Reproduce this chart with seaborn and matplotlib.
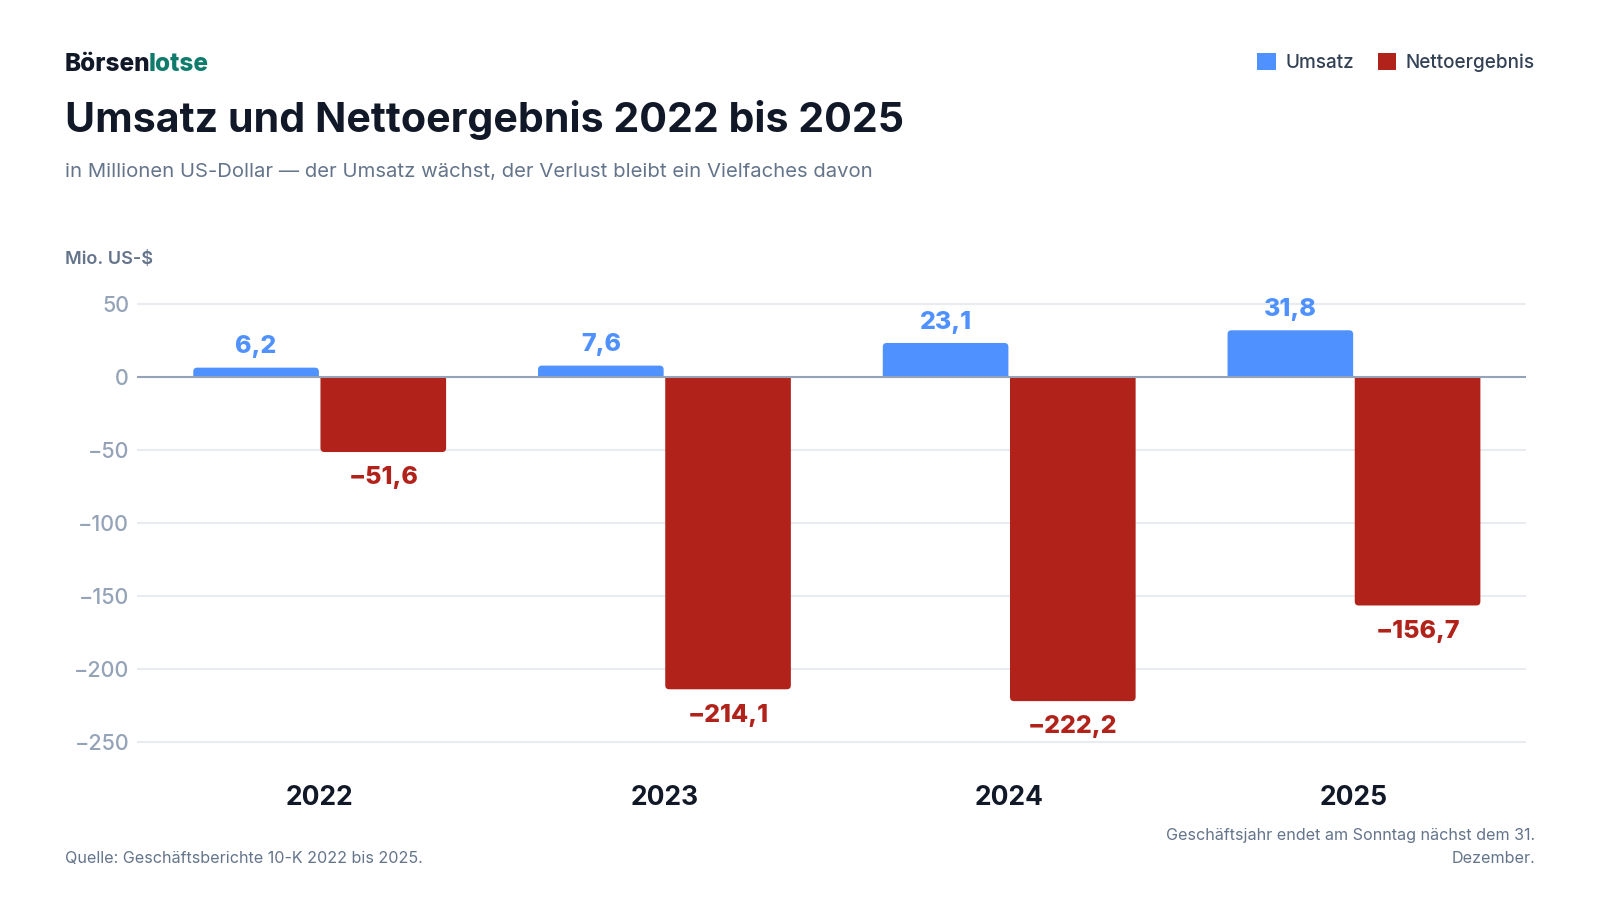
import matplotlib
matplotlib.use("Agg")
import matplotlib.pyplot as plt
from matplotlib.patches import Patch, FancyBboxPatch, Rectangle
import seaborn as sns
import pandas as pd

# ---- data ----
years = ["2022", "2023", "2024", "2025"]
umsatz = [6.2, 7.6, 23.1, 31.8]
netto = [-51.6, -214.1, -222.2, -156.7]
series_names = ["Umsatz", "Nettoergebnis"]
y_ticks = [-250, -200, -150, -100, -50, 0, 50]

BLUE = "#4F91FF"
RED = "#B1221A"
DARK = "#111827"
MUTED = "#64748B"
TICK = "#94A3B8"

df = pd.DataFrame({
    "Jahr": years * 2,
    "Serie": [series_names[0]] * len(years) + [series_names[1]] * len(years),
    "Wert": umsatz + netto,
})

sns.set_theme(style="white")
plt.rcParams["font.family"] = ["Inter", "DejaVu Sans"]

W, H = 1600, 900
fig = plt.figure(figsize=(16, 9), dpi=100)
fig.patch.set_facecolor("white")

ax_left, ax_right = 137.3, 1526
ax_top, ax_bot = 274.5, 763.6
ax = fig.add_axes([ax_left / W, 1 - ax_bot / H, (ax_right - ax_left) / W, (ax_bot - ax_top) / H])

sns.barplot(data=df, x="Jahr", y="Wert", hue="Serie", order=years,
            hue_order=series_names, palette=[BLUE, RED], width=0.738,
            gap=0.0125, saturation=1, legend=False, ax=ax, zorder=3,
            linewidth=0)

ax.set_xlim(-0.529, 3.499)
ax.set_ylim(-265, 70)
ax.set_yticks(y_ticks)
ax.set_yticklabels([f"{v}".replace("-", "\u2212") for v in y_ticks])
ax.set_xlabel("")
ax.set_ylabel("")
for s in ax.spines.values():
    s.set_visible(False)
ax.tick_params(axis="y", length=0, pad=5.8, labelsize=15.5, labelcolor=TICK)
ax.tick_params(axis="x", length=0, pad=15.5, labelsize=19, labelcolor=DARK)
for t in ax.get_xticklabels():
    t.set_fontweight("bold")
for t in ax.get_yticklabels():
    t.set_fontweight("medium")

for v in y_ticks:
    if v != 0:
        ax.axhline(v, color="#E8ECF1", lw=1.5, zorder=1)
ax.axhline(0, color=TICK, lw=1.5, zorder=4)

# rounded outer corners (radius ~4 px)
x_px = ax.transData.transform((1, 0))[0] - ax.transData.transform((0, 0))[0]
y_px = ax.transData.transform((0, 1))[1] - ax.transData.transform((0, 0))[1]
rad_px = 4.0
rx = rad_px / x_px
ry = rad_px / y_px

def fmt(v):
    return f"{v:.1f}".replace(".", ",").replace("-", "\u2212")

for cont, color in zip(ax.containers, [BLUE, RED]):
    for bar in cont:
        h = bar.get_height()
        x0 = bar.get_x()
        w = bar.get_width()
        xc = x0 + w / 2
        if h >= 0:
            y0, hh = -ry * 2, h + ry * 2
            clip = Rectangle((x0 - 1, 0), w + 2, h + 50, transform=ax.transData)
        else:
            y0, hh = h, -h + ry * 2
            clip = Rectangle((x0 - 1, h - 50), w + 2, -h + 50, transform=ax.transData)
        fb = FancyBboxPatch((x0, y0), w, hh,
                            boxstyle=f"round,pad=0,rounding_size={rx}",
                            mutation_aspect=ry / rx, facecolor=color,
                            edgecolor="none", zorder=3)
        ax.add_patch(fb)
        fb.set_clip_path(clip)
        bar.set_visible(False)
        if h >= 0:
            ax.annotate(fmt(h), (xc, h), xytext=(0, 10.4), textcoords="offset points",
                        ha="center", va="baseline", fontsize=18, fontweight="heavy",
                        color=color, zorder=5)
        else:
            ax.annotate(fmt(h), (xc, h), xytext=(0, -23.2), textcoords="offset points",
                        ha="center", va="baseline", fontsize=18, fontweight="heavy",
                        color=color, zorder=5)

# ---- header ----
renderer = fig.canvas.get_renderer()
t1 = fig.text(65 / W, 1 - 70.7 / H, "Börsen", fontsize=17.5, fontweight="heavy",
              color=DARK, va="baseline", ha="left")
bb = t1.get_window_extent(renderer=renderer)
fig.text((bb.x1 - 1.5) / W, 1 - 70.7 / H, "lotse", fontsize=17.5, fontweight="heavy",
         color="#0F7B6C", va="baseline", ha="left")

fig.text(65 / W, 1 - 131.7 / H, "Umsatz und Nettoergebnis 2022 bis 2025",
         fontsize=29.6, fontweight="bold", color=DARK, va="baseline", ha="left")
fig.text(65 / W, 1 - 176.7 / H,
         "in Millionen US-Dollar \u2014 der Umsatz wächst, der Verlust bleibt ein Vielfaches davon",
         fontsize=14.6, color=MUTED, va="baseline", ha="left")
fig.text(65 / W, 1 - 264.3 / H, "Mio. US-$", fontsize=13, fontweight="semibold",
         color=MUTED, va="baseline", ha="left")

handles = [Patch(facecolor=BLUE, edgecolor="none", label=series_names[0]),
           Patch(facecolor=RED, edgecolor="none", label=series_names[1])]
leg = fig.legend(handles=handles, loc="upper right", bbox_to_anchor=(1535 / W, 1 - 53 / H),
                 ncol=2, frameon=False, fontsize=13.6, handlelength=1.0, handleheight=1.0,
                 handletextpad=0.5, columnspacing=1.25, borderpad=0, borderaxespad=0)
for t in leg.get_texts():
    t.set_color("#334155")
    t.set_fontweight("medium")

# ---- footer ----
fig.text(65 / W, 1 - 862.7 / H, "Quelle: Geschäftsberichte 10-K 2022 bis 2025.",
         fontsize=11.6, color=MUTED, va="baseline", ha="left")
fig.text(1535 / W, 1 - 840 / H, "Geschäftsjahr endet am Sonntag nächst dem 31.",
         fontsize=11.6, color=MUTED, va="baseline", ha="right")
fig.text(1535 / W, 1 - 863.3 / H, "Dezember.",
         fontsize=11.6, color=MUTED, va="baseline", ha="right")

fig.savefig("out.png", dpi=100, facecolor="white")
